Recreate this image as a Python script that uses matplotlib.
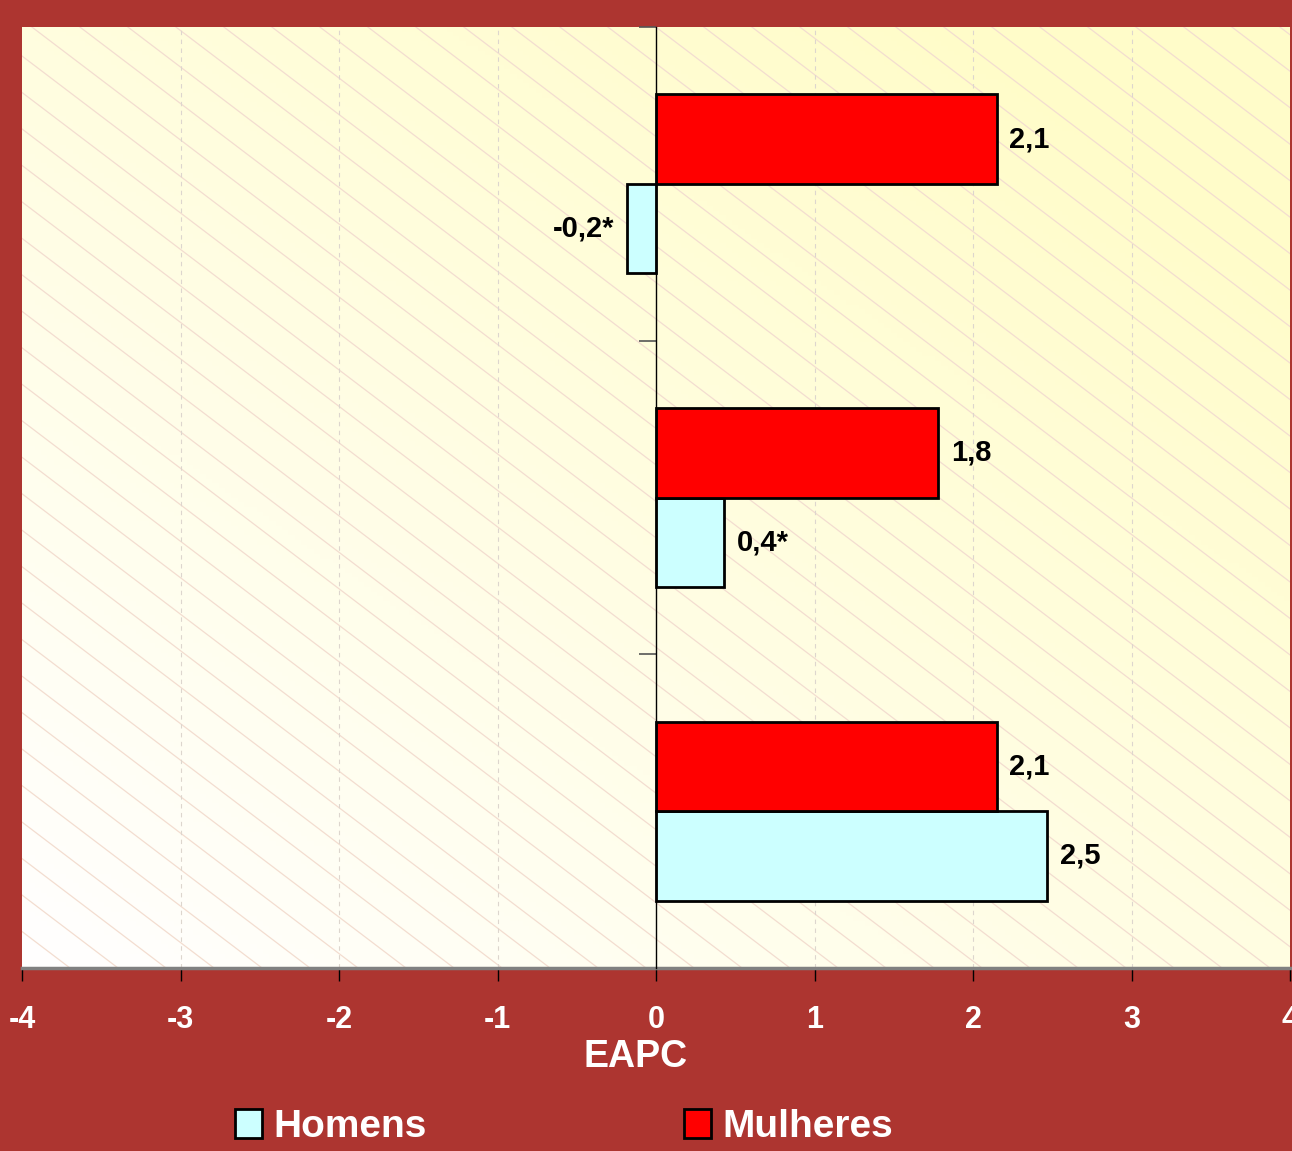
import numpy as np
from matplotlib import pyplot as plt
from matplotlib.patches import Patch

plt.rcParams['font.family'] = ['Liberation Sans', 'DejaVu Sans']

# data (bottom group first)
groups = ['grupo 3', 'grupo 2', 'grupo 1']
homens = [2.47, 0.43, -0.18]
mulheres = [2.15, 1.78, 2.15]
homens_txt = ['2,5', '0,4*', '-0,2*']
mulheres_txt = ['2,1', '1,8', '2,1']
xticks = [-4, -3, -2, -1, 0, 1, 2, 3, 4]

bg = '#AD3530'
c_hom = '#CCFFFF'
c_mul = '#FF0000'

fig = plt.figure(figsize=(12.92, 11.51), dpi=100, facecolor=bg)
ax = fig.add_axes([22/1292, 183/1151, 1268/1292, 941/1151])

# gradient background: white-lavender bottom-left -> pale yellow top-right
n = 200
gx, gy = np.meshgrid(np.linspace(0, 1, n), np.linspace(0, 1, n))
t = np.clip(0.55*gx + 0.6*gy, 0, 1)
lo = np.array([1.0, 1.0, 1.0])
hi = np.array([1.0, 0.99, 0.79])
img = lo[None, None, :]*(1-t[..., None]) + hi[None, None, :]*t[..., None]
ax.imshow(img, extent=[0, 1, 0, 1], origin='lower', transform=ax.transAxes,
          aspect='auto', zorder=0)

# diagonal hatching lines
W, H = 1268.0, 941.0
slope = 0.76
for c in np.arange(-H/slope, W, 48):
    xs = np.array([c, c + H/slope]) / W
    ys = np.array([1, 0])
    ax.plot(xs, ys, transform=ax.transAxes, color='#F3DDD0', lw=0.9, zorder=0.5,
            clip_on=True)

for v in xticks:
    if v not in (-4, 0, 4):
        ax.axvline(v, color='#DDD6CE', lw=0.8, ls=(0, (4, 4)), zorder=1)

y = np.arange(len(groups)) + 0.5
h = 0.285
ax.barh(y - h/2, homens, height=h, color=c_hom, edgecolor='black', lw=2, zorder=3, label='Homens')
ax.barh(y + h/2, mulheres, height=h, color=c_mul, edgecolor='black', lw=2, zorder=3, label='Mulheres')

for yi, v, s in zip(y, homens, homens_txt):
    if v < 0:
        ax.text(v - 0.08, yi - h/2, s, ha='right', va='center', fontsize=21, fontweight='bold', zorder=4)
    else:
        ax.text(v + 0.08, yi - h/2, s, ha='left', va='center', fontsize=21, fontweight='bold', zorder=4)
for yi, v, s in zip(y, mulheres, mulheres_txt):
    ax.text(v + 0.08, yi + h/2, s, ha='left', va='center', fontsize=21, fontweight='bold', zorder=4)

ax.set_xlim(-4, 4)
ax.set_ylim(0, 3)
ax.set_xticks(xticks)
ax.set_xticklabels([str(v) for v in xticks])
ax.set_yticks([0, 1, 2, 3])
ax.set_yticklabels([])
ax.tick_params(axis='x', colors='black', labelcolor='white', labelsize=22,
               length=9, width=1, pad=18, direction='out')
for lab in ax.get_xticklabels():
    lab.set_fontweight('bold')
ax.tick_params(axis='y', length=12, width=1.2, color='#555555', direction='out')

ax.spines['left'].set_position(('data', 0))
ax.spines['left'].set_color('black')
ax.spines['left'].set_linewidth(1)
ax.spines['left'].set_zorder(5)
ax.spines['bottom'].set_color('#808080')
ax.spines['bottom'].set_linewidth(2.5)
ax.spines['top'].set_visible(False)
ax.spines['right'].set_visible(False)

ax.set_xlabel('EAPC', color='white', fontsize=27, fontweight='bold', labelpad=2)
ax.xaxis.set_label_coords(0.484, -0.075)

handles = [Patch(facecolor=c_hom, edgecolor='black', lw=2, label='Homens'),
           Patch(facecolor=c_mul, edgecolor='black', lw=2, label='Mulheres')]
leg = fig.legend(handles=handles, loc='center', bbox_to_anchor=(564/1292, 1 - 1127/1151),
                 ncol=2, frameon=False, fontsize=28, handlelength=0.7, handleheight=0.75,
                 handletextpad=0.3, columnspacing=6.6)
for txt in leg.get_texts():
    txt.set_color('white')
    txt.set_fontweight('bold')

fig.savefig('out.png', dpi=100, facecolor=bg)
